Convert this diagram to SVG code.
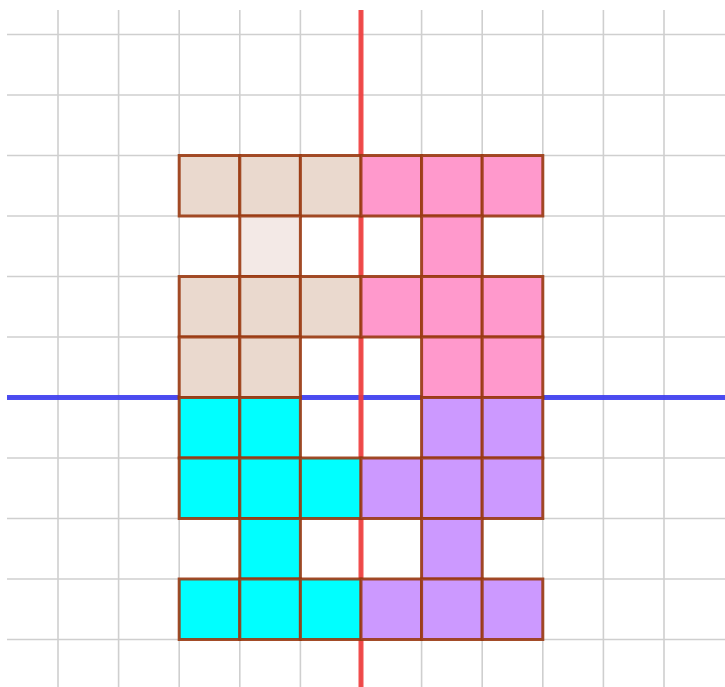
<svg xmlns="http://www.w3.org/2000/svg" width="725" height="687" viewBox="0 0 725 687">
<style>
.g{stroke:#cfcfcf;stroke-width:1.6;fill:none}
.c{stroke:#9a3a12;stroke-opacity:0.9;stroke-width:3}
.b{fill:#ead9ce}
.bl{fill:#f3e9e6}
.p{fill:#ff99cc}
.t{fill:#00ffff}
.v{fill:#cc99ff}
</style>
<rect width="725" height="687" fill="#ffffff"/>
<g id="grid">
<path class="g" d="M58,10V687M118.6,10V687M179.2,10V687M239.8,10V687M300.4,10V687M361,10V687M421.6,10V687M482.2,10V687M542.8,10V687M603.4,10V687M664,10V687"/>
<path class="g" d="M7,34.5H725M7,95H725M7,155.5H725M7,216H725M7,276.5H725M7,337H725M7,397.5H725M7,458H725M7,518.5H725M7,579H725M7,639.5H725"/>
</g>
<g id="axes">
<line x1="7" y1="397.5" x2="725" y2="397.5" stroke="#3a3af0" stroke-width="5" stroke-opacity="0.9"/>
<line x1="361" y1="10" x2="361" y2="687" stroke="#f03a3a" stroke-width="5" stroke-opacity="0.9"/>
</g>
<g id="beige">
<rect class="c b" x="179.2" y="155.5" width="60.6" height="60.5"/>
<rect class="c b" x="239.8" y="155.5" width="60.6" height="60.5"/>
<rect class="c b" x="300.4" y="155.5" width="60.6" height="60.5"/>
<rect class="c bl" x="239.8" y="216" width="60.6" height="60.5"/>
<rect class="c b" x="179.2" y="276.5" width="60.6" height="60.5"/>
<rect class="c b" x="239.8" y="276.5" width="60.6" height="60.5"/>
<rect class="c b" x="300.4" y="276.5" width="60.6" height="60.5"/>
<rect class="c b" x="179.2" y="337" width="60.6" height="60.5"/>
<rect class="c b" x="239.8" y="337" width="60.6" height="60.5"/>
</g>
<g id="pink">
<rect class="c p" x="361" y="155.5" width="60.6" height="60.5"/>
<rect class="c p" x="421.6" y="155.5" width="60.6" height="60.5"/>
<rect class="c p" x="482.2" y="155.5" width="60.6" height="60.5"/>
<rect class="c p" x="421.6" y="216" width="60.6" height="60.5"/>
<rect class="c p" x="361" y="276.5" width="60.6" height="60.5"/>
<rect class="c p" x="421.6" y="276.5" width="60.6" height="60.5"/>
<rect class="c p" x="482.2" y="276.5" width="60.6" height="60.5"/>
<rect class="c p" x="421.6" y="337" width="60.6" height="60.5"/>
<rect class="c p" x="482.2" y="337" width="60.6" height="60.5"/>
</g>
<g id="cyan">
<rect class="c t" x="179.2" y="397.5" width="60.6" height="60.5"/>
<rect class="c t" x="239.8" y="397.5" width="60.6" height="60.5"/>
<rect class="c t" x="179.2" y="458" width="60.6" height="60.5"/>
<rect class="c t" x="239.8" y="458" width="60.6" height="60.5"/>
<rect class="c t" x="300.4" y="458" width="60.6" height="60.5"/>
<rect class="c t" x="239.8" y="518.5" width="60.6" height="60.5"/>
<rect class="c t" x="179.2" y="579" width="60.6" height="60.5"/>
<rect class="c t" x="239.8" y="579" width="60.6" height="60.5"/>
<rect class="c t" x="300.4" y="579" width="60.6" height="60.5"/>
</g>
<g id="purple">
<rect class="c v" x="421.6" y="397.5" width="60.6" height="60.5"/>
<rect class="c v" x="482.2" y="397.5" width="60.6" height="60.5"/>
<rect class="c v" x="361" y="458" width="60.6" height="60.5"/>
<rect class="c v" x="421.6" y="458" width="60.6" height="60.5"/>
<rect class="c v" x="482.2" y="458" width="60.6" height="60.5"/>
<rect class="c v" x="421.6" y="518.5" width="60.6" height="60.5"/>
<rect class="c v" x="361" y="579" width="60.6" height="60.5"/>
<rect class="c v" x="421.6" y="579" width="60.6" height="60.5"/>
<rect class="c v" x="482.2" y="579" width="60.6" height="60.5"/>
</g>
</svg>
